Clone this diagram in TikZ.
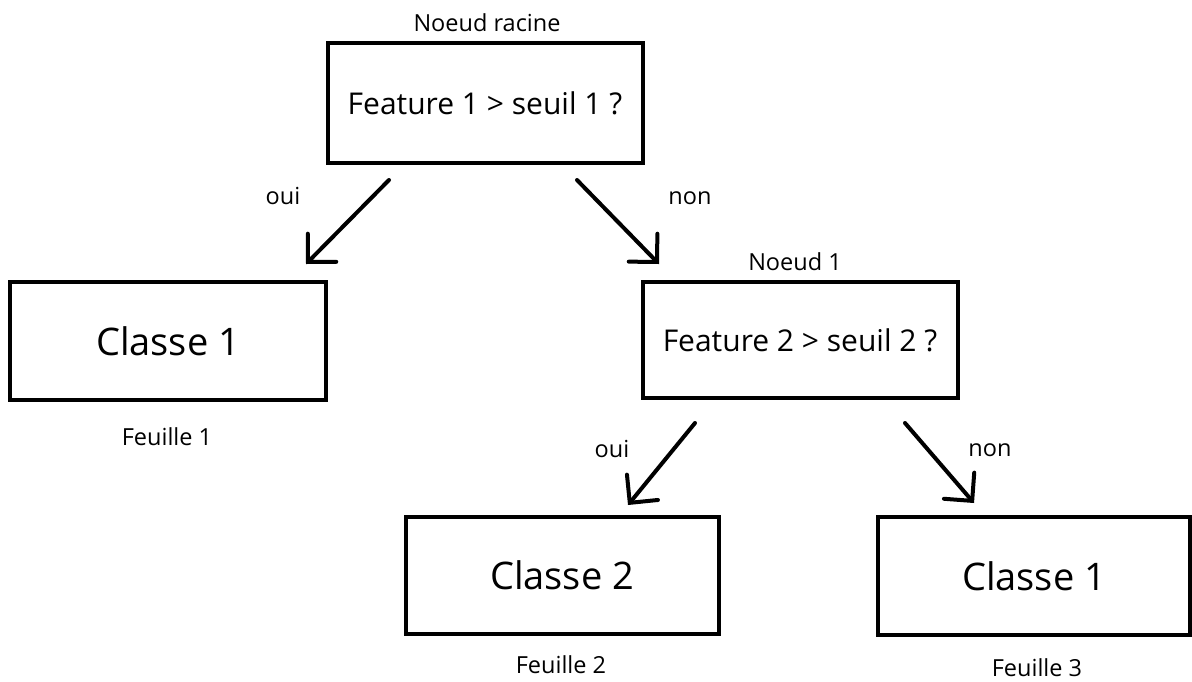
\documentclass[tikz,border=0pt]{standalone}
\usepackage{fontspec}
\setmainfont{Open Sans}
\usetikzlibrary{arrows.meta}
\tikzset{
  box/.style={draw, line width=4pt, minimum width=#1, inner sep=0pt},
  box/.default=314pt,
  q/.style={font=\fontsize{30}{34}\selectfont},
  cls/.style={font=\fontsize{38}{44}\selectfont},
  lab/.style={font=\fontsize{23.5}{26}\selectfont, inner sep=0pt},
  arr/.style={line width=4pt, line cap=round, -{Straight Barb[length=20pt,width=40pt,line cap=round]}},
}
\begin{document}
\begin{tikzpicture}[x=1pt,y=-1pt]
\useasboundingbox[fill=white] (0,0) rectangle (1192,681);
% boxes
\node[box=315pt, minimum height=120pt, q] (root) at (485,103) {Feature 1 > seuil 1 ?};
\node[box=316pt, minimum height=118pt, cls] (c1) at (168,341) {Classe 1};
\node[box=315pt, minimum height=116pt, q] (n1) at (800,340) {Feature 2 > seuil 2 ?};
\node[box=313pt, minimum height=117pt, cls] (c2) at (562,575) {Classe 2};
\node[box=312pt, minimum height=118pt, cls] (c3) at (1034,576) {Classe 1};
% captions
\node[lab] (lroot) at (487,23) {Noeud racine};
\node[lab] (ln1) at (795,262) {Noeud 1};
\node[lab] (lf1) at (167,437) {Feuille 1};
\node[lab] (lf2) at (561,665) {Feuille 2};
\node[lab] (lf3) at (1037,668) {Feuille 3};
% arrow ends
\coordinate (a1s) at (389,180);
\coordinate (a1e) at (306,264);
\coordinate (a2s) at (577,180);
\coordinate (a2e) at (659,264);
\coordinate (a3s) at (695,423);
\coordinate (a3e) at (628,505);
\coordinate (a4s) at (905,423);
\coordinate (a4e) at (974,503);
\draw[arr] (a1s) -- (a1e);
\draw[arr] (a2s) -- (a2e);
\draw[arr] (a3s) -- (a3e);
\draw[arr] (a4s) -- (a4e);
% edge labels
\node[lab] (o1) at (283,196) {oui};
\node[lab] (n1l) at (690,198) {non};
\node[lab] (o2) at (612,449) {oui};
\node[lab] (n2l) at (990,450) {non};
\end{tikzpicture}
\end{document}
